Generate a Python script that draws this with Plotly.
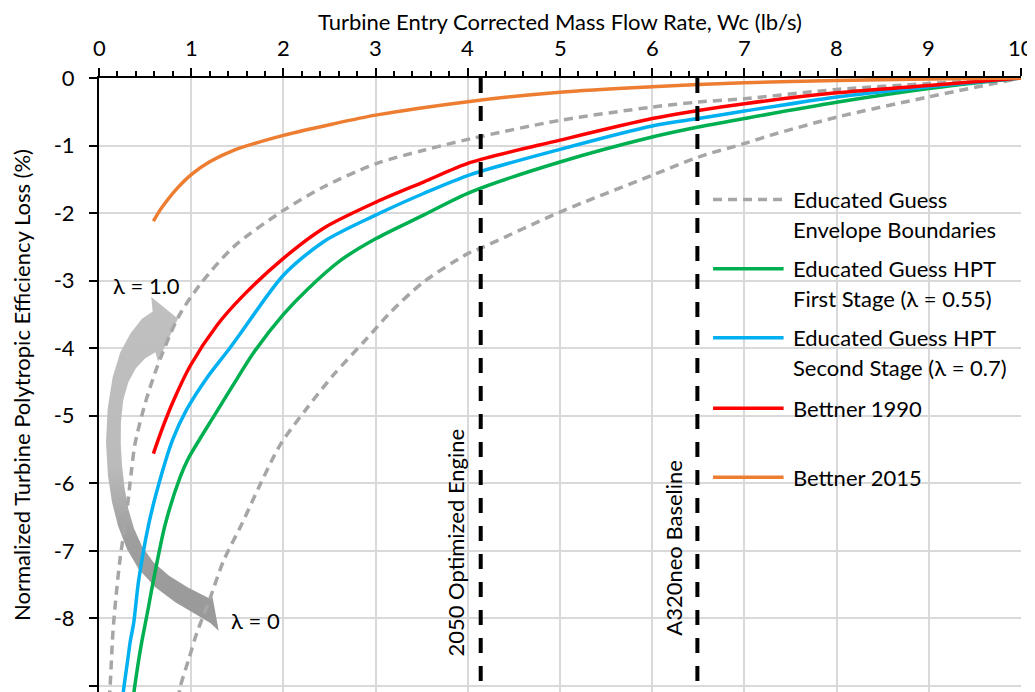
import plotly.graph_objects as go

# ---------------- data ----------------
env_upper_x = [0.11, 0.12, 0.15, 0.18, 0.23, 0.29, 0.35, 0.39, 0.50, 0.63, 0.86, 1.10, 1.46, 2.0, 2.44, 3.0, 3.52, 4.03, 5.0, 6.0, 6.5, 7.0, 8.0, 9.0, 10.0]
env_upper_y = [-9.2, -9.02, -8.23, -7.74, -7.10, -6.55, -5.84, -5.42, -4.82, -4.28, -3.54, -3.05, -2.50, -1.96, -1.61, -1.27, -1.07, -0.90, -0.627, -0.43, -0.356, -0.306, -0.17, -0.083, 0.0]

env_lower_x = [0.86, 0.88, 0.97, 1.06, 1.20, 1.35, 1.55, 1.73, 1.97, 2.26, 2.54, 2.91, 3.16, 3.52, 4.0, 4.14, 5.0, 6.0, 6.5, 7.0, 7.28, 8.0, 9.0, 10.0]
env_lower_y = [-9.2, -9.02, -8.62, -8.22, -7.72, -7.15, -6.60, -6.07, -5.42, -4.88, -4.40, -3.85, -3.47, -3.02, -2.60, -2.52, -1.985, -1.44, -1.17, -0.97, -0.85, -0.58, -0.28, 0.0]

hpt1_x = [0.37, 0.386, 0.43, 0.466, 0.53, 0.59, 0.72, 0.88, 0.97, 1.10, 1.24, 1.53, 1.68, 2.0, 2.26, 2.62, 3.0, 3.52, 4.03, 5.0, 6.0, 6.5, 7.0, 8.0, 9.0, 10.0]
hpt1_y = [-9.2, -9.02, -8.62, -8.33, -7.88, -7.44, -6.60, -5.91, -5.63, -5.33, -5.02, -4.38, -4.06, -3.50, -3.13, -2.70, -2.38, -2.03, -1.69, -1.244, -0.874, -0.726, -0.60, -0.36, -0.157, 0.0]

hpt2_x = [0.25, 0.27, 0.31, 0.34, 0.375, 0.43, 0.54, 0.68, 0.80, 0.95, 1.17, 1.39, 1.53, 2.0, 2.44, 3.0, 3.52, 4.03, 5.0, 6.0, 6.5, 7.0, 8.0, 9.0, 10.0]
hpt2_y = [-9.25, -9.02, -8.63, -8.33, -8.08, -7.44, -6.60, -5.86, -5.35, -4.91, -4.44, -4.05, -3.79, -2.92, -2.42, -2.03, -1.71, -1.43, -1.056, -0.71, -0.60, -0.49, -0.28, -0.13, 0.0]

b1990_x = [0.59, 0.70, 0.81, 0.99, 1.28, 1.55, 2.0, 2.44, 3.0, 3.52, 4.03, 5.0, 6.0, 6.5, 7.0, 8.0, 9.0, 10.0]
b1990_y = [-5.56, -5.14, -4.77, -4.26, -3.66, -3.24, -2.67, -2.22, -1.84, -1.54, -1.25, -0.92, -0.60, -0.48, -0.38, -0.22, -0.11, 0.0]

b2015_x = [0.59, 0.66, 0.74, 0.85, 1.0, 1.2, 1.46, 2.0, 2.54, 3.0, 4.0, 5.0, 6.0, 7.0, 8.0, 9.0, 10.0]
b2015_y = [-2.12, -1.96, -1.81, -1.63, -1.43, -1.24, -1.07, -0.85, -0.68, -0.55, -0.35, -0.21, -0.13, -0.07, -0.036, -0.015, 0.0]

ref_engines = ["2050 Optimized Engine", "A320neo Baseline"]
ref_wc = [4.14, 6.49]

x_ticks = [0, 1, 2, 3, 4, 5, 6, 7, 8, 9, 10]
x_tick_text = ["0", "1", "2", "3", "4", "5", "6", "7", "8", "9", "10"]
y_ticks = [0, -1, -2, -3, -4, -5, -6, -7, -8, -9]
y_tick_text = ["0", "-1", "-2", "-3", "-4", "-5", "-6", "-7", "-8", "-9"]

x_title = "Turbine Entry Corrected Mass Flow Rate, Wc (lb/s)"
y_title = "Normalized Turbine Polytropic Efficiency Loss (%)"

legend_labels = [["Educated Guess", "Envelope Boundaries"],
                 ["Educated Guess HPT", "First Stage (λ = 0.55)"],
                 ["Educated Guess HPT", "Second Stage (λ = 0.7)"],
                 ["Bettner 1990"],
                 ["Bettner 2015"]]

# ---------------- styles ----------------
FONT = "Lato, 'Open Sans', sans-serif"
FS = 22
GREY = "#a6a6a6"
C_GREEN = "#00b050"
C_BLUE = "#00b0f0"
C_RED = "#ff0000"
C_ORANGE = "#ed7d31"
LW = 3.5
TXT = dict(family=FONT, size=FS, color="black")

fig = go.Figure()

# curved double arrow (decoration, light at top -> dark at bottom)
arrow_outline = [
    (0.857, -3.565), (0.567, -3.244), (0.582, -3.456), (0.466, -3.565), (0.339, -3.787),
    (0.231, -4.059), (0.148, -4.429), (0.094, -4.898), (0.076, -5.393), (0.097, -5.886),
    (0.141, -6.281), (0.206, -6.627), (0.303, -6.972), (0.430, -7.268), (0.611, -7.541),
    (0.828, -7.763), (1.044, -7.935), (1.207, -8.069), (1.298, -8.182),
    (1.232, -7.689), (1.189, -7.700), (0.960, -7.540), (0.760, -7.370), (0.590, -7.170),
    (0.465, -6.930), (0.380, -6.670), (0.318, -6.380), (0.276, -6.060), (0.250, -5.740),
    (0.236, -5.420), (0.238, -5.096), (0.262, -4.775), (0.318, -4.503), (0.400, -4.296),
    (0.502, -4.148), (0.611, -4.059), (0.640, -4.197), (0.857, -3.565),
]
fig.add_trace(go.Scatter(
    x=[p[0] for p in arrow_outline], y=[p[1] for p in arrow_outline],
    mode="lines", fill="toself", line=dict(width=0, color="rgba(0,0,0,0)"),
    fillgradient=dict(type="vertical", start=-8.2, stop=-3.25,
                      colorscale=[[0, "#999999"], [0.28, "#9e9e9e"], [0.5, "#bbbbbb"], [1, "#c0c0c0"]]),
    showlegend=False, hoverinfo="skip"))

series = [
    (env_upper_x, env_upper_y, GREY, "9px,6px"),
    (env_lower_x, env_lower_y, GREY, "9px,6px"),
    (hpt1_x, hpt1_y, C_GREEN, "solid"),
    (hpt2_x, hpt2_y, C_BLUE, "solid"),
    (b1990_x, b1990_y, C_RED, "solid"),
    (b2015_x, b2015_y, C_ORANGE, "solid"),
]
for xs, ys, col, dash in series:
    fig.add_trace(go.Scatter(x=xs, y=ys, mode="lines",
                             line=dict(color=col, width=LW, dash=dash, shape="spline", smoothing=0.8),
                             showlegend=False, hoverinfo="skip"))

# vertical reference lines
for xv in ref_wc:
    fig.add_trace(go.Scatter(x=[xv, xv], y=[0, -9.2], mode="lines",
                             line=dict(color="black", width=4, dash="15px,13px"),
                             showlegend=False, hoverinfo="skip"))

annotations = []
# x-axis title and top tick labels
annotations.append(dict(x=0.5, y=1.0928, xref="paper", yref="paper", text=x_title,
                        xanchor="center", yanchor="middle", showarrow=False, font=TXT))
for tv, tt in zip(x_ticks, x_tick_text):
    annotations.append(dict(x=tv, y=1.0497, xref="x", yref="paper", text=tt,
                            xanchor="center", yanchor="middle", showarrow=False, font=TXT))

annotations.append(dict(x=3.864, y=-6.874, xref="x", yref="y", text=ref_engines[0], textangle=-90,
                        showarrow=False, font=TXT))
annotations.append(dict(x=6.232, y=-6.96, xref="x", yref="y", text=ref_engines[1], textangle=-90,
                        showarrow=False, font=TXT))
annotations.append(dict(x=0.52, y=-3.07, xref="x", yref="y", text="λ = 1.0", showarrow=False, font=TXT))
annotations.append(dict(x=1.695, y=-8.03, xref="x", yref="y", text="λ = 0", showarrow=False, font=TXT))

# custom legend
leg_rows_y = [-1.80, -2.824, -3.846, -4.89, -5.91]
leg_colors = [GREY, C_GREEN, C_BLUE, C_RED, C_ORANGE]
leg_dash = ["9px,6px", "solid", "solid", "solid", "solid"]
line_gap = 0.445
for ry, col, dsh, labels in zip(leg_rows_y, leg_colors, leg_dash, legend_labels):
    fig.add_trace(go.Scatter(x=[6.66, 7.425], y=[ry, ry], mode="lines",
                             line=dict(color=col, width=LW, dash=dsh),
                             showlegend=False, hoverinfo="skip"))
    for i, lab in enumerate(labels):
        annotations.append(dict(x=7.50, y=ry - i * line_gap, xref="x", yref="y", text=lab,
                                xanchor="left", yanchor="middle", showarrow=False, font=TXT))

# page body has an 8px default margin: compensate so the plot lands where the reference has it
fig.update_layout(
    width=1027, height=684,
    margin=dict(l=91, r=14, t=70, b=0, autoexpand=False),
    paper_bgcolor="white", plot_bgcolor="white",
    showlegend=False,
    font=TXT,
    annotations=annotations,
)
fig.update_xaxes(
    side="top", range=[0, 10], tickvals=x_ticks, showticklabels=False,
    showgrid=True, gridcolor="#d9d9d9", gridwidth=2,
    showline=True, linecolor="black", linewidth=2,
    ticks="outside", ticklen=8, tickwidth=2, tickcolor="black",
    minor=dict(dtick=0.2, ticks="outside", ticklen=5, tickwidth=1.5, tickcolor="black", showgrid=False),
    zeroline=False,
)
fig.update_yaxes(
    range=[-9.09, 0], tickvals=y_ticks, ticktext=y_tick_text,
    showgrid=True, gridcolor="#d9d9d9", gridwidth=2,
    showline=True, linecolor="black", linewidth=2,
    ticks="outside", ticklen=8, tickwidth=2, tickcolor="black",
    zeroline=False, ticklabelstandoff=10,
    tickfont=TXT,
    title=dict(text=y_title, standoff=20, font=TXT),
)

fig.write_html("out.html")
